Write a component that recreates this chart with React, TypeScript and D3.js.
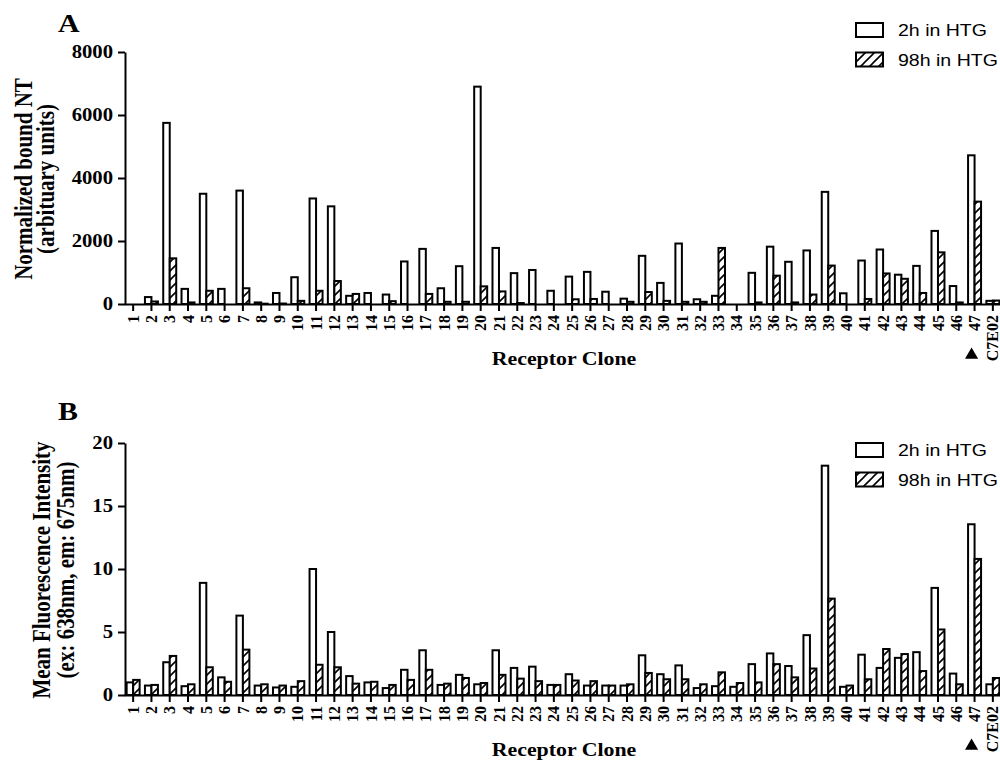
import { useEffect, useRef } from 'react';
import * as d3 from 'd3';

const clones = [
  '1', '2', '3', '4', '5', '6', '7', '8', '9', '10', '11', '12', '13', '14', '15', '16',
  '17', '18', '19', '20', '21', '22', '23', '24', '25', '26', '27', '28', '29', '30', '31', '32',
  '33', '34', '35', '36', '37', '38', '39', '40', '41', '42', '43', '44', '45', '46', '47', 'C7E02',
];
const series = ['2h in HTG', '98h in HTG'];

// panel A: normalized bound NT
const boundNT2h = [
  0, 220, 5750, 480, 3500, 480, 3600, 50, 350, 850, 3350, 3100, 260, 350, 300, 1350,
  1750, 500, 1200, 6900, 1780, 980, 1080, 420, 870, 1020, 390, 170, 1530, 670, 1920, 150,
  260, 0, 990, 1820, 1340, 1700, 3560, 340, 1380, 1730, 930, 1210, 2320, 570, 4720, 100,
];
const boundNT98h = [
  0, 80, 1450, 50, 420, 0, 500, 10, 15, 100, 420, 730, 320, 0, 90, 0,
  320, 70, 70, 560, 400, 30, 0, 0, 150, 160, 0, 70, 380, 100, 70, 70,
  1780, 0, 50, 900, 50, 300, 1220, 0, 160, 970, 800, 350, 1640, 50, 3250, 110,
];
const boundTicks = [0, 2000, 4000, 6000, 8000];

// panel B: mean fluorescence intensity
const mfi2h = [
  1.0, 0.75, 2.6, 0.7, 8.9, 1.4, 6.3, 0.75, 0.6, 0.65, 10.0, 5.0, 1.5, 1.0, 0.55, 2.0,
  3.55, 0.8, 1.6, 0.85, 3.55, 2.15, 2.25, 0.8, 1.65, 0.75, 0.75, 0.75, 3.15, 1.65, 2.35, 0.55,
  0.7, 0.65, 2.45, 3.3, 2.3, 4.75, 18.2, 0.65, 3.2, 2.15, 2.95, 3.4, 8.5, 1.7, 13.55, 0.85,
];
const mfi98h = [
  1.2, 0.8, 3.1, 0.85, 2.2, 1.05, 3.6, 0.85, 0.75, 1.1, 2.4, 2.2, 0.9, 1.05, 0.8, 1.2,
  2.0, 0.9, 1.35, 0.95, 1.6, 1.3, 1.1, 0.8, 1.15, 1.1, 0.75, 0.85, 1.75, 1.25, 1.25, 0.85,
  1.8, 0.95, 1.0, 2.45, 1.4, 2.1, 7.65, 0.75, 1.25, 3.65, 3.25, 1.9, 5.2, 0.85, 10.8, 1.35,
];
const mfiTicks = [0, 5, 10, 15, 20];

const SERIF = '"Liberation Serif", "Times New Roman", serif';
const SANS = '"Liberation Sans", Arial, sans-serif';
const SX = 1.15; // source figure is stretched sideways, text follows it

const App = () => {
  const svgRef = useRef<SVGSVGElement>(null);

  useEffect(() => {
    const svg = d3.select(svgRef.current);
    svg.selectAll('*').remove();

    const pat = svg.append('defs').append('pattern')
      .attr('id', 'hatch')
      .attr('patternUnits', 'userSpaceOnUse')
      .attr('width', 9)
      .attr('height', 9);
    pat.append('rect').attr('width', 9).attr('height', 9).attr('fill', '#fff');
    pat.append('path')
      .attr('d', 'M-1,1 l2,-2 M0,9 l9,-9 M8,10 l2,-2')
      .attr('stroke', '#000')
      .attr('stroke-width', 1.6);

    const x0 = d3.scaleBand<string>()
      .domain(clones)
      .range([124, 1002])
      .paddingInner(0.29)
      .paddingOuter(0.145);
    const x1 = d3.scaleBand<string>().domain(series).range([0, x0.bandwidth()]);

    const panels = [
      {
        letter: 'A', letterY: 32, top: 52, base: 304, ticks: boundTicks,
        values: [boundNT2h, boundNT98h],
        title: ['Normalized bound NT', '(arbituary units)'], titleX: [24, 46],
        legendY: 30,
      },
      {
        letter: 'B', letterY: 420, top: 443, base: 695, ticks: mfiTicks,
        values: [mfi2h, mfi98h],
        title: ['Mean Fluorescence Intensity', '(ex: 638nm, em: 675nm)'], titleX: [41.5, 66],
        legendY: 450,
      },
    ];

    panels.forEach(p => {
      const y = d3.scaleLinear()
        .domain([0, p.ticks[p.ticks.length - 1]])
        .range([p.base, p.top]);
      const g = svg.append('g');

      // bars
      clones.forEach((c, i) => {
        series.forEach((s, j) => {
          const v = p.values[j][i];
          g.append('rect')
            .attr('x', x0(c)! + x1(s)!)
            .attr('y', y(v))
            .attr('width', x1.bandwidth())
            .attr('height', y(0) - y(v))
            .attr('fill', j === 0 ? '#fff' : 'url(#hatch)')
            .attr('stroke', '#000')
            .attr('stroke-width', 2);
        });
      });

      // y axis
      const ya = g.append('g')
        .attr('transform', 'translate(125,0)')
        .call(d3.axisLeft(y).tickValues(p.ticks).tickFormat(d3.format('d')).tickSize(7).tickSizeOuter(0));
      ya.attr('font-family', SERIF).attr('font-size', 18).attr('font-weight', 'bold');
      ya.selectAll('path, line').attr('stroke-width', 2);
      ya.selectAll('text')
        .attr('x', -12 / SX)
        .attr('transform', `scale(${SX},1)`);

      // x axis
      const xa = g.append('g')
        .attr('transform', `translate(0,${p.base})`)
        .call(d3.axisBottom(x0).tickSize(7).tickSizeOuter(0));
      xa.attr('font-family', SERIF).attr('font-size', 16).attr('font-weight', 'bold');
      xa.selectAll('path, line').attr('stroke-width', 2);
      xa.selectAll('text')
        .attr('y', 0)
        .attr('x', -11)
        .attr('dy', '0.35em')
        .attr('transform', 'rotate(-90)')
        .style('text-anchor', 'end');

      // marker under clone 47
      g.append('path')
        .attr('d', d3.symbol().type(d3.symbolTriangle).size(75)())
        .attr('transform', `translate(${x0('47')! + x0.bandwidth() / 2 - 3},${p.base + 51})`)
        .attr('fill', '#000');

      g.append('text')
        .attr('transform', `translate(564,${p.base + 55}) scale(${SX},1)`)
        .attr('text-anchor', 'middle')
        .attr('dominant-baseline', 'central')
        .attr('font-family', SERIF)
        .attr('font-size', 19)
        .attr('font-weight', 'bold')
        .text('Receptor Clone');

      // y titles
      const cy = (p.top + p.base) / 2 + 1;
      p.title.forEach((t, k) => {
        g.append('text')
          .attr('transform', `translate(${p.titleX[k]},${cy}) scale(${SX},1) rotate(-90)`)
          .attr('text-anchor', 'middle')
          .attr('dominant-baseline', 'central')
          .attr('font-family', SERIF)
          .attr('font-size', 21)
          .attr('font-weight', 'bold')
          .text(t);
      });

      g.append('text')
        .attr('transform', `translate(58,${p.letterY}) scale(${SX},1)`)
        .attr('font-family', SERIF)
        .attr('font-size', 26)
        .attr('font-weight', 'bold')
        .text(p.letter);

      // legend
      series.forEach((s, j) => {
        const ly = p.legendY + j * 29.5;
        g.append('rect')
          .attr('x', 856)
          .attr('y', ly - 7)
          .attr('width', 27)
          .attr('height', 14)
          .attr('fill', j === 0 ? '#fff' : 'url(#hatch)')
          .attr('stroke', '#000')
          .attr('stroke-width', 2);
        g.append('text')
          .attr('transform', `translate(898,${ly}) scale(${SX},1)`)
          .attr('dominant-baseline', 'central')
          .attr('font-family', SANS)
          .attr('font-size', 17)
          .text(s);
      });
    });
  }, []);

  return (
    <svg
      ref={svgRef}
      width={1000}
      height={761}
      viewBox="0 0 1000 761"
      style={{ position: 'absolute', left: 0, top: 0, background: '#fff' }}
    />
  );
};

export default App;
